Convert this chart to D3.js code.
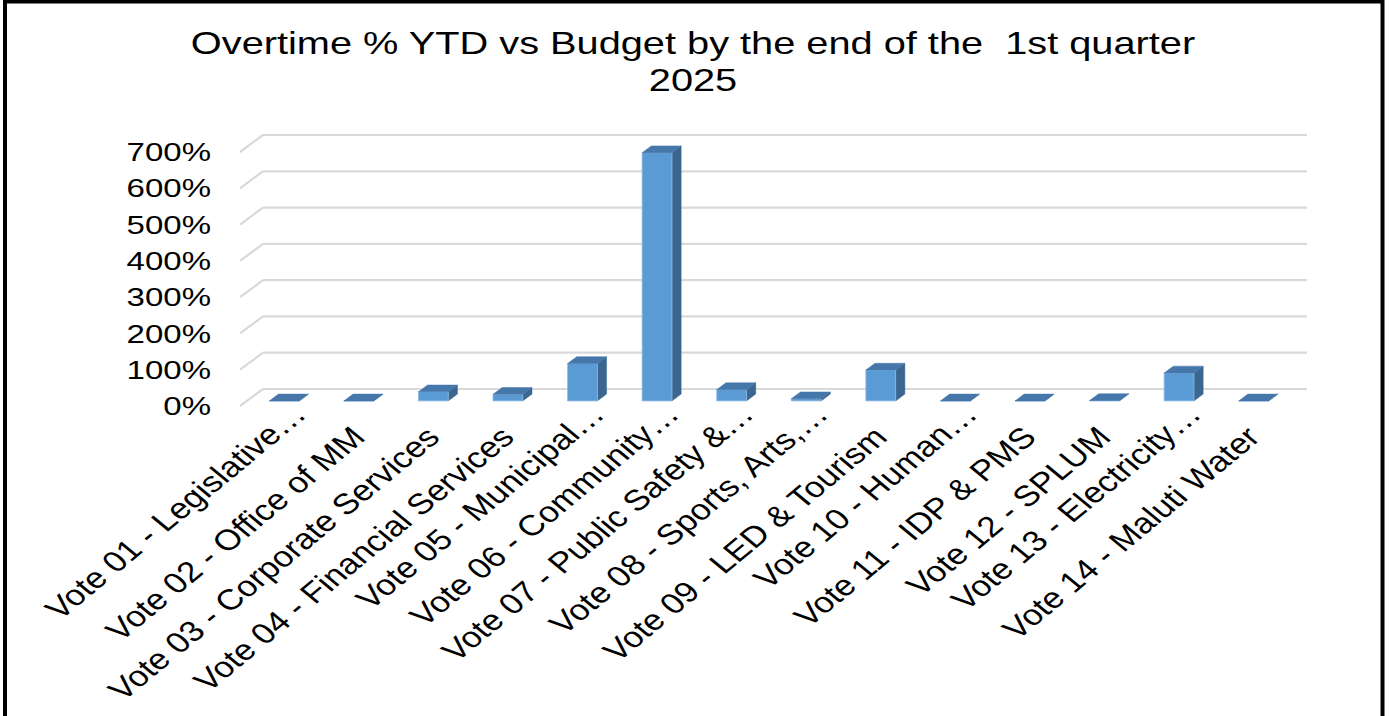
<!DOCTYPE html>
<html><head><meta charset="utf-8">
<script src="https://cdn.jsdelivr.net/npm/d3@7/dist/d3.min.js"></script>
<style>
html,body{margin:0;padding:0;background:#fff;}
svg{display:block;font-family:"Liberation Sans",Arial,sans-serif;}
</style></head>
<body>
<svg id="chart" width="1389" height="716"></svg>
<script>
const titleLines = ["Overtime % YTD vs Budget by the end of the  1st quarter", "2025"];
const categories = [
  "Vote 01 - Legislative…",
  "Vote 02 - Office of MM",
  "Vote 03 - Corporate Services",
  "Vote 04 - Financial Services",
  "Vote 05 - Municipal…",
  "Vote 06 - Community…",
  "Vote 07 - Public Safety &…",
  "Vote 08 - Sports, Arts,…",
  "Vote 09 - LED & Tourism",
  "Vote 10 - Human…",
  "Vote 11 - IDP & PMS",
  "Vote 12 - SPLUM",
  "Vote 13 - Electricity…",
  "Vote 14 - Maluti Water"
];
const values = [0, 0, 0.25, 0.18, 1.03, 6.84, 0.31, 0.06, 0.85, 0, 0, 0.01, 0.77, 0];
const yTicks = [0, 1, 2, 3, 4, 5, 6, 7];

const S = 1.27;               // horizontal stretch of the picture
const SL = 1.21;              // stretch used for the slanted category labels
const svg = d3.select("#chart");

// frame
svg.append("rect").attr("x", 5).attr("y", 1.5).attr("width", 1377.5).attr("height", 800)
  .attr("fill", "none").attr("stroke", "#000").attr("stroke-width", 4);

// 3D geometry: back wall coordinates + depth offset
const depthDx = -23, depthDy = 17;
const x = d3.scaleBand().domain(categories).range([263, 1307]).paddingInner(0).paddingOuter(0);
const y = d3.scaleLinear().domain([0, 7]).range([389, 135]);
const P = (px, py, d) => [px + depthDx * d, py + depthDy * d];

// gridlines (back wall + left side wall)
const grid = svg.append("g");
yTicks.forEach(t => {
  const yy = y(t);
  grid.append("line").attr("x1", x.range()[0]).attr("x2", x.range()[1])
    .attr("y1", yy).attr("y2", yy).attr("stroke", "#d9d9d9").attr("stroke-width", 2.2);
  const f = P(x.range()[0], yy, 1);
  grid.append("line").attr("x1", f[0]).attr("y1", f[1]).attr("x2", x.range()[0]).attr("y2", yy)
    .attr("stroke", "#d9d9d9").attr("stroke-width", 2.2);
});

// y tick labels
const yAxisG = svg.append("g");
yTicks.forEach(t => {
  const f = P(x.range()[0], y(t), 1);
  yAxisG.append("text")
    .attr("transform", `translate(211,${f[1]}) scale(${S},1)`)
    .attr("text-anchor", "end").attr("dominant-baseline", "central")
    .attr("font-size", 26).attr("fill", "#000")
    .text(d3.format(".0%")(t));
});

// bars
const dFront = 0.7, dBack = 0.3, widthFrac = 0.4;
const cFront = "#5b9bd5", cSide = "#3b6690", cTop = "#4677aa";
const bars = svg.append("g");
categories.forEach((c, i) => {
  const v = values[i];
  const cx = x(c) + x.bandwidth() / 2;
  const w = x.bandwidth() * widthFrac;
  const x0 = cx - w / 2, x1 = cx + w / 2;
  const yb = y(0), yt = y(v);
  const fbl = P(x0, yb, dFront), fbr = P(x1, yb, dFront), ftl = P(x0, yt, dFront), ftr = P(x1, yt, dFront);
  const bbr = P(x1, yb, dBack), btl = P(x0, yt, dBack), btr = P(x1, yt, dBack);
  const poly = pts => pts.map(p => p.join(",")).join(" ");
  bars.append("polygon").attr("points", poly([fbr, bbr, btr, ftr])).attr("fill", cSide)
    .attr("stroke", cSide).attr("stroke-width", 0.5);
  bars.append("polygon").attr("points", poly([fbl, fbr, ftr, ftl])).attr("fill", cFront)
    .attr("stroke", "#8dbbe6").attr("stroke-width", 0.8);
  bars.append("polygon").attr("points", poly([ftl, ftr, btr, btl])).attr("fill", cTop)
    .attr("stroke", cTop).attr("stroke-width", 0.5);
});

// x labels
const xl = svg.append("g");
categories.forEach((c, i) => {
  const cx = x(c) + x.bandwidth() / 2;
  const f = P(cx, y(0), 1);
  const ell = c.endsWith("…");
  xl.append("text")
    .attr("transform", `translate(${f[0]},${f[1]}) scale(${SL},1) rotate(-45)`)
    .attr("x", ell ? 11 : -14.5).attr("y", ell ? 25 : 32)
    .attr("text-anchor", "end").attr("font-size", 29).attr("fill", "#000")
    .text(c);
});

// title
const tg = svg.append("g");
tg.append("text").attr("transform", `translate(693,54) scale(${S},1)`)
  .attr("text-anchor", "middle").attr("font-size", 31.3).attr("fill", "#000")
  .style("white-space", "pre").text(titleLines[0]);
tg.append("text").attr("transform", `translate(693,91) scale(${S},1)`)
  .attr("text-anchor", "middle").attr("font-size", 31.3).attr("fill", "#000")
  .text(titleLines[1]);
</script>
</body></html>
